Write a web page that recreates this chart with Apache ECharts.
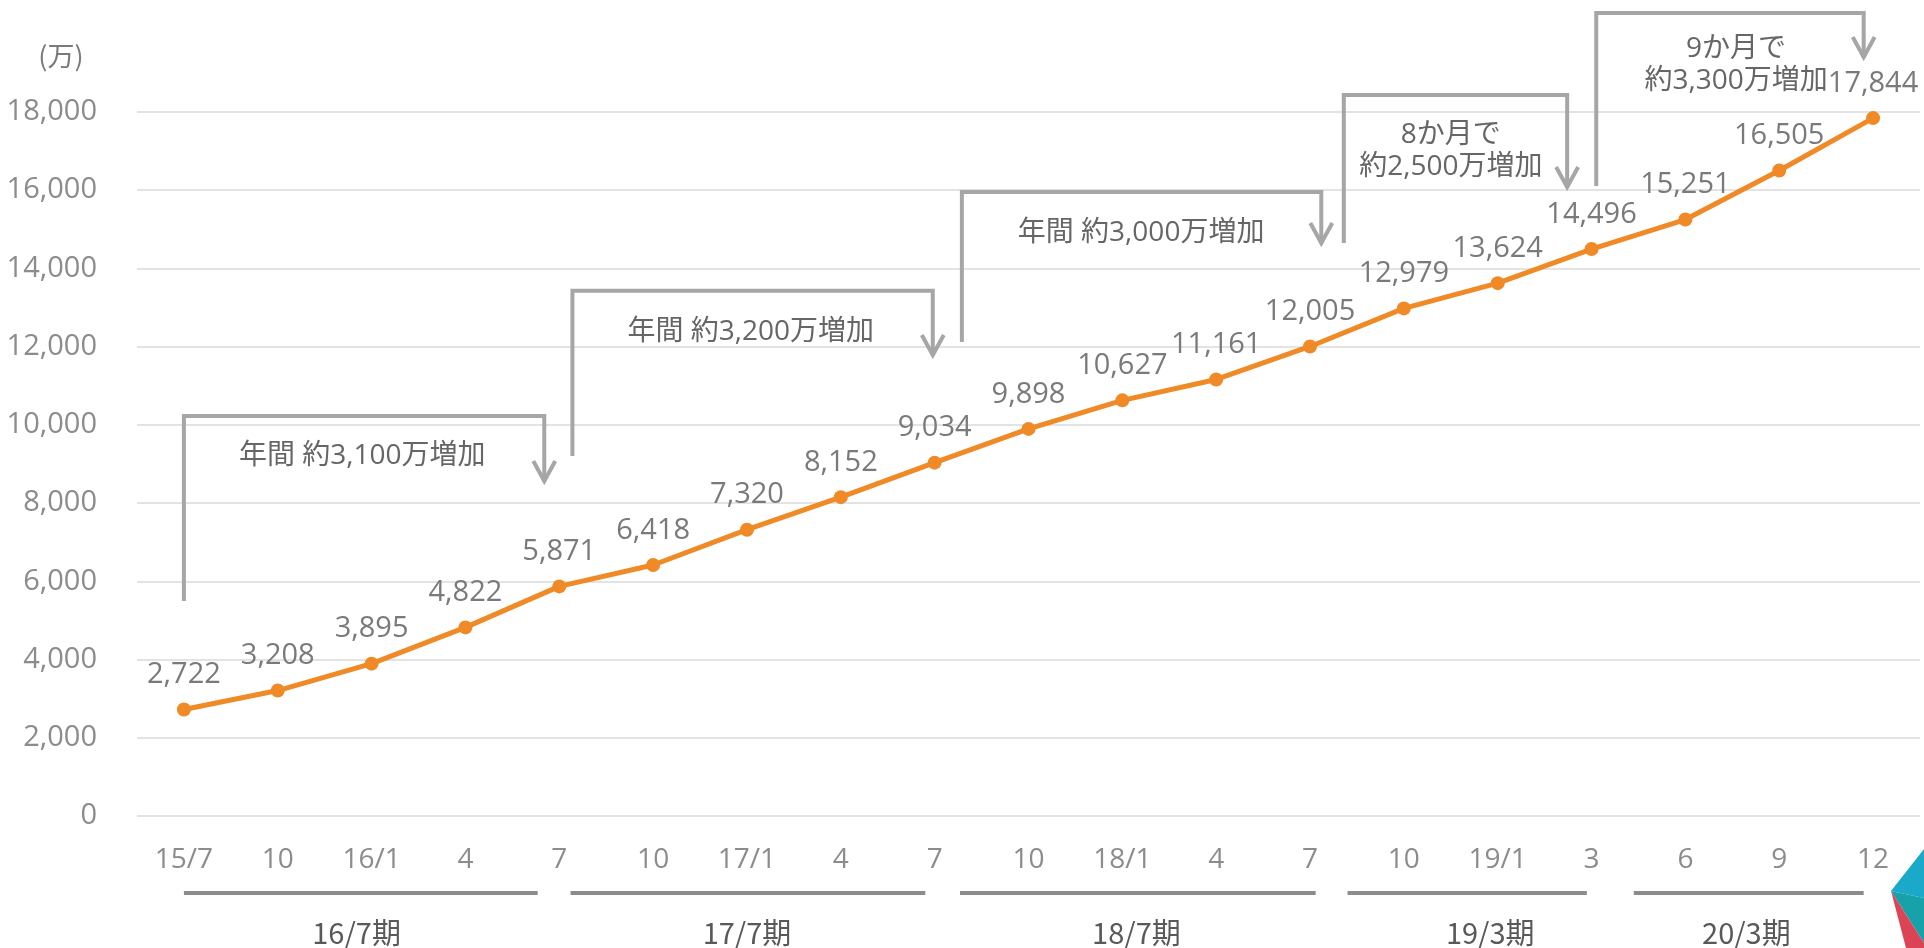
<!DOCTYPE html>
<html><head><meta charset="utf-8">
<script src="https://cdn.jsdelivr.net/npm/echarts@6/dist/echarts.min.js"></script>
<style>html,body{margin:0;padding:0;background:#fff}#c{width:1924px;height:948px}</style>
</head><body><div id="c"></div>
<script>
// ---- data ----
const categories = ['15/7','10','16/1','4','7','10','17/1','4','7','10','18/1','4','7','10','19/1','3','6','9','12'];
const values = [2722,3208,3895,4822,5871,6418,7320,8152,9034,9898,10627,11161,12005,12979,13624,14496,15251,16505,17844];
const yMin = 0, yMax = 18000, yInterval = 2000;
const unitLabel = '(万)';
const periodNames = ['16/7期','17/7期','18/7期','19/3期','20/3期'];
const annotationTexts = ['年間 約3,100万増加','年間 約3,200万増加','年間 約3,000万増加','8か月で\n約2,500万増加','9か月で\n約3,300万増加'];

// ---- annotation layout (category index / value units) ----
const bracketLayout = [
  {x0:0,     x1:3.84,  bottom:5500,  top:10230, tip:8540,  tx:1.90,  ty:9204},
  {x0:4.14,  x1:7.98,  bottom:9204,  top:13428, tip:11761, tx:6.04,  ty:12362},
  {x0:8.29,  x1:12.12, bottom:12119, top:15955, tip:14625, tx:10.20, ty:14906},
  {x0:12.36, x1:14.74, bottom:14651, top:18435, tip:16057, tx:13.50, ty:17003},
  {x0:15.05, x1:17.90, bottom:16108, top:20531, tip:19380, tx:16.54, ty:19202}
];
const periodLayout = [
  {from:0,     to:3.77,  label:1.84},
  {from:4.12,  to:7.90,  label:6.00},
  {from:8.27,  to:12.06, label:10.15},
  {from:12.40, to:14.95, label:13.92},
  {from:15.45, to:17.90, label:16.65}
];

const FONT = '"Open Sans","Noto Sans CJK JP",sans-serif';
const chart = echarts.init(document.getElementById('c'));
chart.setOption({
  animation: false,
  backgroundColor: '#fff',
  grid: {left: 137, right: 4, top: 112, bottom: 132, containLabel: false},
  xAxis: {
    type: 'category', data: categories, boundaryGap: true,
    axisLine: {show: false}, axisTick: {show: false},
    axisLabel: {interval: 0, margin: 30, fontSize: 28, color: '#8c8c8c', fontFamily: FONT}
  },
  yAxis: {
    type: 'value', min: yMin, max: yMax, interval: yInterval,
    axisLine: {show: false}, axisTick: {show: false},
    axisLabel: {margin: 40, fontSize: 29, color: '#8c8c8c', fontFamily: FONT,
      formatter: v => v.toLocaleString('en-US')},
    splitLine: {lineStyle: {color: '#e3e3e3', width: 2}}
  },
  series: [{
    type: 'line', data: values, symbol: 'circle', symbolSize: 14,
    lineStyle: {color: '#ef8a27', width: 5},
    itemStyle: {color: '#ef8a27'},
    label: {show: true, position: 'top', distance: 13, fontSize: 29, color: '#7a7a7a', fontFamily: FONT,
      formatter: p => p.value.toLocaleString('en-US')},
    z: 5
  }]
});

function px(idx, val) {
  const p0 = chart.convertToPixel({gridIndex: 0}, [0, val]);
  const p1 = chart.convertToPixel({gridIndex: 0}, [1, val]);
  return [p0[0] + (p1[0] - p0[0]) * idx, p0[1]];
}

const graphics = [];
const gray = '#a6a6a6';
bracketLayout.forEach((b, i) => {
  const pb = px(b.x0, b.bottom), pt = px(b.x0, b.top), pr = px(b.x1, b.top), ptip = px(b.x1, b.tip);
  graphics.push({type: 'polyline', shape: {points: [pb, pt, pr, ptip]},
    style: {stroke: gray, lineWidth: 4, fill: null, lineJoin: 'miter'}, z: 10});
  graphics.push({type: 'polyline', shape: {points: [[ptip[0]-11, ptip[1]-21], [ptip[0], ptip[1]-1], [ptip[0]+11, ptip[1]-21]]},
    style: {stroke: gray, lineWidth: 4, fill: null}, z: 10});
  const tp = px(b.tx, b.ty);
  graphics.push({type: 'text', x: tp[0], y: tp[1], z: 11,
    style: {text: annotationTexts[i], fontSize: 28, fontFamily: FONT, fill: '#666666',
      align: 'center', verticalAlign: 'middle', lineHeight: 32}});
});

const axisBottom = px(0, 0)[1];
periodLayout.forEach((p, i) => {
  const a = px(p.from, 0), b = px(p.to, 0), c = px(p.label, 0);
  graphics.push({type: 'line', shape: {x1: a[0], y1: axisBottom + 77, x2: b[0], y2: axisBottom + 77},
    style: {stroke: '#8c8c8c', lineWidth: 4}});
  graphics.push({type: 'text', x: c[0], y: axisBottom + 117,
    style: {text: periodNames[i], fontSize: 29, fontFamily: '"Noto Sans CJK JP",sans-serif', fill: '#595959',
      align: 'center', verticalAlign: 'middle'}});
});

graphics.push({type: 'text', x: 61, y: 56,
  style: {text: unitLabel, fontSize: 27, fontFamily: '"Noto Sans CJK JP",sans-serif', fill: '#7a7a7a', align: 'center', verticalAlign: 'middle'}});

// corner decoration
graphics.push({type: 'polygon', shape: {points: [[1891,891],[1924,849],[1924,898]]}, style: {fill: '#1ba9c9'}});
graphics.push({type: 'polygon', shape: {points: [[1891,891],[1924,898],[1924,943]]}, style: {fill: '#17a1a8'}});
graphics.push({type: 'polygon', shape: {points: [[1891,891],[1924,943],[1924,948],[1906,948]]}, style: {fill: '#dc4456'}});

chart.setOption({graphic: graphics});
</script></body></html>
